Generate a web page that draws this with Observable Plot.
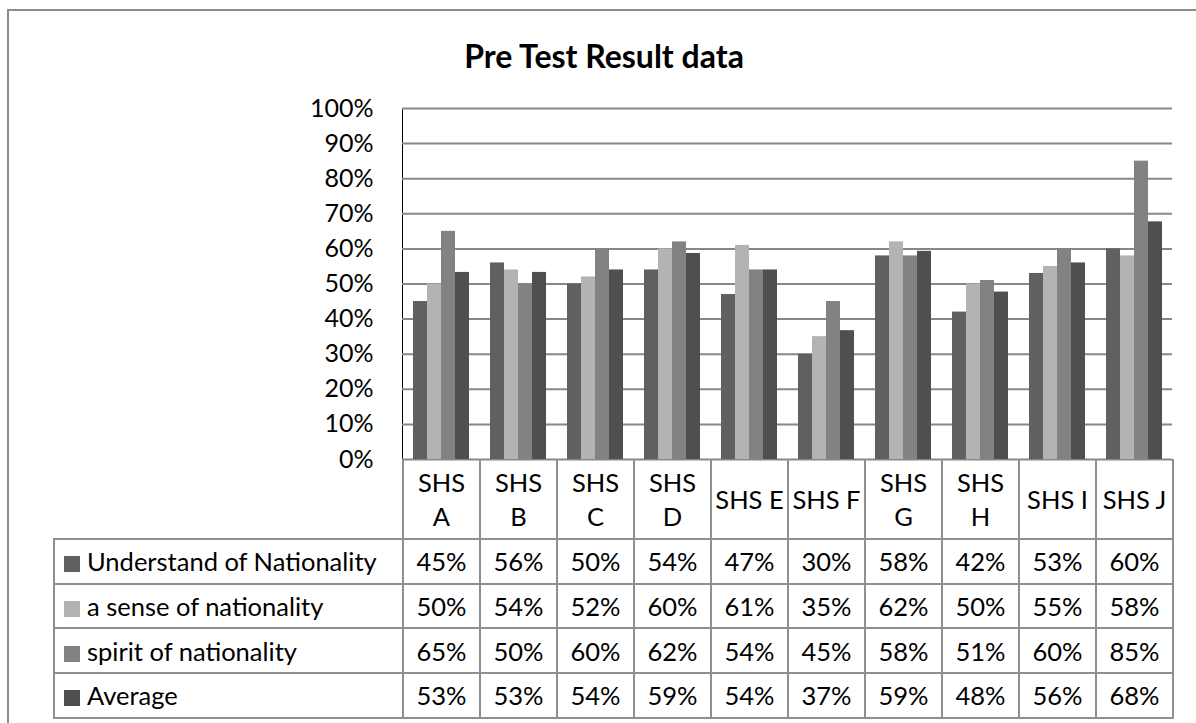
<!DOCTYPE html>
<html>
<head>
<meta charset="utf-8">
<script src="https://cdn.jsdelivr.net/npm/d3@7"></script>
<script src="https://cdn.jsdelivr.net/npm/@observablehq/plot@0.6"></script>
<style>
  html, body { margin: 0; padding: 0; background: #fff; overflow: hidden; }
  #page { position: relative; width: 1196px; height: 723px; overflow: hidden; font-family: Lato, "Noto Sans", sans-serif; color: #000; }
  #frame { position: absolute; left: 7px; top: 9px; width: 1300px; height: 800px; border: 2px solid #8c8c8c; box-sizing: border-box; }
  #title { position: absolute; left: 0; width: 1208px; top: 39px; text-align: center; font-weight: bold; font-size: 32px; line-height: 34px; }
  #chart { position: absolute; left: 0; top: 0; }
  table.dt { position: absolute; border-collapse: collapse; table-layout: fixed; font-size: 25.5px; }
  table.dt td { border: 2px solid #8f8f8f; padding: 0; text-align: center; white-space: pre-line; }
  table.dt tr.hdr td { border-top: none; line-height: 34px; height: 79px; }
  table.dt tr.hdr td.blank { border-left: none; border-top: none; }
  table.dt tr.row td { height: 42.7px; }
  table.dt td.lg { text-align: left; white-space: nowrap; }
  .sw { display: inline-block; width: 16px; height: 16px; margin: 0 7px 0 9px; vertical-align: -1px; }
</style>
</head>
<body>
<div id="page">
  <div id="frame"></div>
  <div id="title"></div>
  <div id="chart"></div>
</div>
<script>
const title = "Pre Test Result data";
const categories = ["SHS A","SHS B","SHS C","SHS D","SHS E","SHS F","SHS G","SHS H","SHS I","SHS J"];
const categoryLabels = ["SHS\nA","SHS\nB","SHS\nC","SHS\nD","SHS E","SHS F","SHS\nG","SHS\nH","SHS I","SHS J"];
const seriesNames = ["Understand of Nationality","a sense of nationality","spirit of nationality","Average"];
const seriesColors = ["#606060","#b3b3b3","#828282","#4f4f4f"];
const understand = [0.45,0.56,0.50,0.54,0.47,0.30,0.58,0.42,0.53,0.60];
const sense      = [0.50,0.54,0.52,0.60,0.61,0.35,0.62,0.50,0.55,0.58];
const spirit     = [0.65,0.50,0.60,0.62,0.54,0.45,0.58,0.51,0.60,0.85];
const average    = [0.533,0.533,0.54,0.587,0.54,0.367,0.593,0.477,0.56,0.677];
const yTicks = [0,0.1,0.2,0.3,0.4,0.5,0.6,0.7,0.8,0.9,1.0];

const seriesValues = [understand, sense, spirit, average];
const data = [];
categories.forEach((c, i) => seriesNames.forEach((s, j) => data.push({cat: c, series: s, value: seriesValues[j][i]})));

document.getElementById("title").textContent = title;

const W = 1196, H = 470;
const chart = Plot.plot({
  width: W,
  height: H,
  marginTop: 108,
  marginBottom: 11,
  marginLeft: 402,
  marginRight: 24,
  style: {fontFamily: "Lato, 'Noto Sans', sans-serif", fontSize: "25px", color: "#000", background: "transparent", overflow: "visible"},
  fx: {domain: categories, padding: 0, axis: null},
  x: {domain: seriesNames, paddingInner: 0, paddingOuter: 0.75, axis: null},
  y: {domain: [0, 1], ticks: yTicks, tickFormat: d3.format(".0%"), tickSize: 0, tickPadding: 29, label: null, line: true},
  color: {domain: seriesNames, range: seriesColors},
  marks: [
    Plot.ruleY(yTicks, {stroke: "#878787", strokeWidth: 2, strokeOpacity: 1}),
    Plot.barY(data, {fx: "cat", x: "series", y: "value", fill: "series", inset: 0})
  ]
});
document.getElementById("chart").appendChild(chart);
// grey axis line
d3.select(chart).selectAll("[aria-label='y-axis'] path, [aria-label='y-axis line'] path, [aria-label='y-axis line']").attr("stroke", "#878787").attr("stroke-width", 2);

// Data table below the chart, columns aligned with the fx scale
const fx = chart.scale("fx");
const step = fx.step || fx.bandwidth;
const firstX = fx.apply(categories[0]);
const tableLeft = 53;
const yS = chart.scale("y");
const tableTop = yS.apply(0);

const table = document.createElement("table");
table.className = "dt";
table.style.left = tableLeft + "px";
table.style.top = tableTop + "px";
table.style.width = (firstX - tableLeft + step * categories.length) + "px";
const cg = document.createElement("colgroup");
const c0 = document.createElement("col"); c0.style.width = (firstX - tableLeft) + "px"; cg.appendChild(c0);
categories.forEach(() => { const c = document.createElement("col"); c.style.width = step + "px"; cg.appendChild(c); });
table.appendChild(cg);

const hdr = document.createElement("tr"); hdr.className = "hdr";
const blank = document.createElement("td"); blank.className = "blank"; hdr.appendChild(blank);
categoryLabels.forEach(l => { const td = document.createElement("td"); td.textContent = l; hdr.appendChild(td); });
table.appendChild(hdr);

const fmt = d3.format(".0%");
seriesNames.forEach((s, j) => {
  const tr = document.createElement("tr"); tr.className = "row";
  const lg = document.createElement("td"); lg.className = "lg";
  const sw = document.createElement("span"); sw.className = "sw"; sw.style.background = seriesColors[j];
  lg.appendChild(sw); lg.appendChild(document.createTextNode(s));
  tr.appendChild(lg);
  seriesValues[j].forEach(v => { const td = document.createElement("td"); td.textContent = fmt(v); tr.appendChild(td); });
  table.appendChild(tr);
});
document.getElementById("page").appendChild(table);
</script>
</body>
</html>
